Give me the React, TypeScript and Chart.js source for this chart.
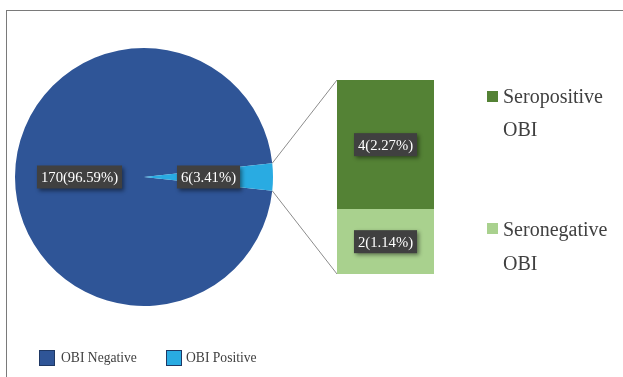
import React, { useEffect, useRef } from "react";
import { Chart, registerables } from "chart.js";
Chart.register(...registerables);

const pieLabels = ["OBI Negative", "OBI Positive"];
const pieValues = [170, 6];
const piePercents = ["96.59%", "3.41%"];
const pieColors = ["#2F5597", "#29ABE2"];
const pieBorders = ["#1F3864", "#1F3864"];

// stacked bottom -> top
const barLabels = ["Seronegative OBI", "Seropositive OBI"];
const barValues = [2, 4];
const barPercents = ["1.14%", "2.27%"];
const barColors = ["#A9D18E", "#548235"];

const FONT = '"Liberation Serif", "Times New Roman", serif';

function drawLabel(ctx: CanvasRenderingContext2D, text: string, x: number, y: number) {
  ctx.save();
  ctx.font = `14.7px ${FONT}`;
  const w = ctx.measureText(text).width + 8;
  const h = 23;
  ctx.shadowColor = "rgba(0,0,0,0.45)";
  ctx.shadowBlur = 4;
  ctx.shadowOffsetX = 2;
  ctx.shadowOffsetY = 2;
  ctx.fillStyle = "#404040";
  ctx.fillRect(x - w / 2, y - h / 2, w, h);
  ctx.shadowColor = "transparent";
  ctx.fillStyle = "#ffffff";
  ctx.textAlign = "center";
  ctx.textBaseline = "middle";
  ctx.fillText(text, x, y + 1);
  ctx.restore();
}

export default function App() {
  const pieRef = useRef<HTMLCanvasElement>(null);
  const barRef = useRef<HTMLCanvasElement>(null);

  useEffect(() => {
    const total = pieValues.reduce((a, b) => a + b, 0);
    const before = pieValues[0];
    const rotation = 90 - ((before + pieValues[1] / 2) / total) * 360;

    const pieLabelPlugin = {
      id: "pieLabels",
      afterDatasetsDraw(chart: any) {
        const ctx = chart.ctx;
        const meta = chart.getDatasetMeta(0);
        meta.data.forEach((arc: any, i: number) => {
          const p = arc.getProps(["x", "y", "startAngle", "endAngle", "outerRadius"], true);
          const mid = (p.startAngle + p.endAngle) / 2;
          const r = p.outerRadius * 0.5;
          drawLabel(ctx, `${pieValues[i]}(${piePercents[i]})`, p.x + r * Math.cos(mid), p.y + r * Math.sin(mid));
        });
      },
    };

    const pie = new Chart(pieRef.current!, {
      type: "pie",
      data: {
        labels: pieLabels,
        datasets: [
          {
            data: pieValues,
            backgroundColor: pieColors,
            borderWidth: 0,
            hoverBorderWidth: 0,
            hoverOffset: 0,
            offset: 0,
          },
        ],
      },
      options: {
        responsive: false,
        animation: false,
        rotation,
        layout: { padding: { left: 15, top: 48, right: 350, bottom: 71 } },
        plugins: { legend: { display: false }, tooltip: { enabled: false } },
        events: [],
      },
      plugins: [pieLabelPlugin],
    } as any);

    const barPlugin = {
      id: "barExtras",
      beforeDatasetsDraw(chart: any) {
        const ctx = chart.ctx;
        const arc = pie.getDatasetMeta(0).data[1] as any;
        if (!arc) return;
        const p = arc.getProps(["x", "y", "startAngle", "endAngle", "outerRadius"], true);
        const a1 = { x: p.x + p.outerRadius * Math.cos(p.startAngle), y: p.y + p.outerRadius * Math.sin(p.startAngle) };
        const a2 = { x: p.x + p.outerRadius * Math.cos(p.endAngle), y: p.y + p.outerRadius * Math.sin(p.endAngle) };
        const upper = a1.y < a2.y ? a1 : a2;
        const lower = a1.y < a2.y ? a2 : a1;
        let top = Infinity, bottom = -Infinity, left = Infinity;
        chart.data.datasets.forEach((_: any, di: number) => {
          const el = chart.getDatasetMeta(di).data[0] as any;
          const q = el.getProps(["x", "y", "base", "width"], true);
          top = Math.min(top, q.y, q.base);
          bottom = Math.max(bottom, q.y, q.base);
          left = Math.min(left, q.x - q.width / 2);
        });
        ctx.save();
        ctx.strokeStyle = "#8c8c8c";
        ctx.lineWidth = 1;
        ctx.beginPath();
        ctx.moveTo(upper.x, upper.y);
        ctx.lineTo(left, top);
        ctx.moveTo(lower.x, lower.y);
        ctx.lineTo(left, bottom);
        ctx.stroke();
        ctx.restore();
      },
      afterDatasetsDraw(chart: any) {
        const ctx = chart.ctx;
        chart.data.datasets.forEach((_: any, di: number) => {
          const el = chart.getDatasetMeta(di).data[0] as any;
          const q = el.getProps(["x", "y", "base"], true);
          drawLabel(ctx, `${barValues[di]}(${barPercents[di]})`, q.x, (q.y + q.base) / 2);
        });
      },
    };

    const barTotal = barValues.reduce((a, b) => a + b, 0);
    const bar = new Chart(barRef.current!, {
      type: "bar",
      data: {
        labels: [pieLabels[1]],
        datasets: barValues.map((v, i) => ({
          label: barLabels[i],
          data: [v],
          backgroundColor: barColors[i],
          borderWidth: 0,
          barPercentage: 1,
          categoryPercentage: 1,
        })),
      },
      options: {
        responsive: false,
        animation: false,
        layout: { padding: { left: 337, right: 189, top: 80, bottom: 103 } },
        scales: {
          x: { stacked: true, display: false },
          y: { stacked: true, display: false, min: 0, max: barTotal },
        },
        plugins: { legend: { display: false }, tooltip: { enabled: false } },
        events: [],
      },
      plugins: [barPlugin],
    } as any);

    return () => {
      bar.destroy();
      pie.destroy();
    };
  }, []);

  const txt: React.CSSProperties = {
    position: "absolute",
    fontFamily: FONT,
    color: "#404040",
    whiteSpace: "nowrap",
  };

  return (
    <div style={{ position: "absolute", left: 0, top: 0, width: 623, height: 377, overflow: "hidden", background: "#fff" }}>
      <div
        style={{
          position: "absolute",
          left: 6,
          top: 10,
          width: 640,
          height: 400,
          borderTop: "1px solid #7a7a7a",
          borderLeft: "1px solid #7a7a7a",
        }}
      />
      <canvas ref={pieRef} width={623} height={377} style={{ position: "absolute", left: 0, top: 0 }} />
      <canvas ref={barRef} width={623} height={377} style={{ position: "absolute", left: 0, top: 0 }} />

      {/* right legend */}
      <div style={{ position: "absolute", left: 487, top: 91, width: 11, height: 11, background: barColors[1] }} />
      <div style={{ ...txt, left: 503, top: 80, fontSize: 20, lineHeight: "33px" }}>
        Seropositive
        <br />
        OBI
      </div>
      <div style={{ position: "absolute", left: 487, top: 223, width: 11, height: 11, background: barColors[0] }} />
      <div style={{ ...txt, left: 503, top: 212, fontSize: 20, lineHeight: "34px" }}>
        Seronegative
        <br />
        OBI
      </div>

      {/* bottom legend */}
      <div
        style={{
          position: "absolute",
          left: 39,
          top: 350,
          width: 14,
          height: 14,
          background: pieColors[0],
          border: `1px solid ${pieBorders[0]}`,
        }}
      />
      <div style={{ ...txt, left: 61, top: 348, fontSize: 13.6, lineHeight: "20px" }}>{pieLabels[0]}</div>
      <div
        style={{
          position: "absolute",
          left: 166,
          top: 350,
          width: 14,
          height: 14,
          background: pieColors[1],
          border: `1px solid ${pieBorders[1]}`,
        }}
      />
      <div style={{ ...txt, left: 186, top: 348, fontSize: 13.6, lineHeight: "20px" }}>{pieLabels[1]}</div>
    </div>
  );
}
